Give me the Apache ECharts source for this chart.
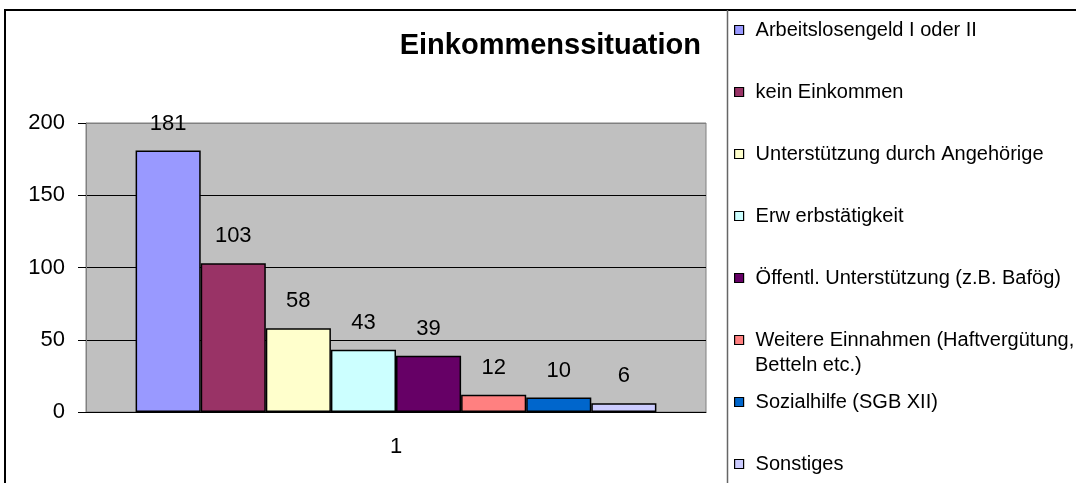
<!DOCTYPE html>
<html>
<head>
<meta charset="utf-8">
<script src="https://cdn.jsdelivr.net/npm/echarts@6/dist/echarts.min.js"></script>
<style>
  body { margin: 0; background: #fff; }
  #main { width: 1076px; height: 483px; }
</style>
</head>
<body>
<div id="main"></div>
<script>
// Daten
var categories = ["1"];
var seriesNames = [
  "Arbeitslosengeld I oder II",
  "kein Einkommen",
  "Unterstützung durch Angehörige",
  "Erw erbstätigkeit",
  "Öffentl. Unterstützung (z.B. Bafög)",
  "Weitere Einnahmen (Haftvergütung, Betteln etc.)",
  "Sozialhilfe (SGB XII)",
  "Sonstiges"
];
var values = [181, 103, 58, 43, 39, 12, 10, 6];
var barColors = ["#9999ff", "#993366", "#ffffcc", "#ccffff", "#660066", "#ff8080", "#0066cc", "#ccccff"];

var font = "Liberation Sans, Arial, sans-serif";

var series = [];
var legends = [];
seriesNames.forEach(function (name, i) {
  series.push({
    name: name,
    type: "bar",
    data: [values[i]],
    barGap: 0,
    barCategoryGap: "16%",
    itemStyle: { color: barColors[i], borderColor: "#000", borderWidth: 1.5 },
    label: {
      show: true,
      position: "top",
      distance: 16,
      fontSize: 22,
      fontFamily: font,
      color: "#000"
    }
  });
  // eine Legende pro Eintrag, damit die Abstände wie im Original sind
  legends.push({
    data: [name],
    orient: "vertical",
    left: 734,
    top: 29 + 62 * i - 9,
    padding: 0,
    itemWidth: 9,
    itemHeight: 9,
    icon: "rect",
    itemStyle: { borderColor: "#000", borderWidth: 1.2 },
    formatter: function (n) {
      return n.indexOf("Weitere") === 0 ? "Weitere Einnahmen (Haftvergütung," : n;
    },
    textStyle: { fontSize: 20, fontFamily: font, color: "#000", padding: [0, 0, 0, 7] }
  });
});

var myChart = echarts.init(document.getElementById("main"));
myChart.setOption({
  animation: false,
  backgroundColor: "#fff",
  title: {
    text: "Einkommenssituation",
    right: 375,
    top: 31,
    padding: 0,
    textStyle: { fontSize: 29, fontWeight: "bold", fontFamily: font, color: "#000" }
  },
  legend: legends,
  grid: {
    left: 86,
    top: 123,
    right: 370,
    bottom: 71,
    show: true,
    backgroundColor: "#c0c0c0",
    borderColor: "#808080",
    borderWidth: 1
  },
  xAxis: {
    type: "category",
    data: categories,
    axisLine: { lineStyle: { color: "#000" } },
    axisTick: { length: 8, lineStyle: { color: "#000" } },
    axisLabel: { margin: 24, fontSize: 22, fontFamily: font, color: "#000" }
  },
  yAxis: {
    type: "value",
    min: 0,
    max: 200,
    interval: 50,
    axisLine: { show: true, lineStyle: { color: "#808080" } },
    axisTick: { show: true, length: 8, lineStyle: { color: "#000" } },
    axisLabel: { margin: 21, fontSize: 22, fontFamily: font, color: "#000" },
    splitLine: { lineStyle: { color: ["#000", "#000", "#000", "#000", "#808080"], width: 1 } }
  },
  graphic: [
    {
      type: "rect",
      shape: { x: 5, y: 10, width: 1200, height: 600 },
      style: { fill: "none", stroke: "#000", lineWidth: 2 },
      silent: true
    },
    {
      type: "line",
      shape: { x1: 727.5, y1: 10, x2: 727.5, y2: 483 },
      style: { stroke: "#666", lineWidth: 1.5 },
      silent: true
    },
    {
      type: "text",
      left: 755,
      top: 355,
      style: { text: "Betteln etc.)", fontSize: 20, fontFamily: font, fill: "#000" },
      silent: true
    }
  ],
  series: series
});
</script>
</body>
</html>
